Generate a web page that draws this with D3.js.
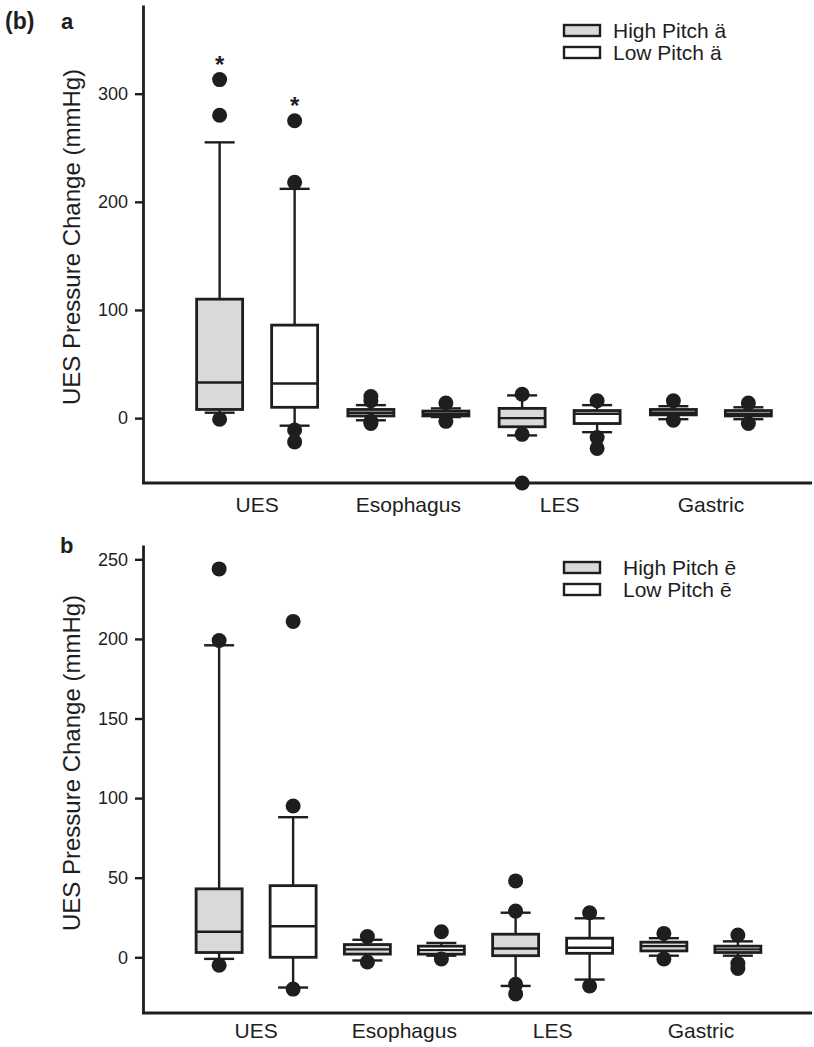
<!DOCTYPE html>
<html>
<head>
<meta charset="utf-8">
<script src="https://cdn.jsdelivr.net/npm/d3@7"></script>
<style>
  body { margin: 0; background: #fff; }
  svg { display: block; font-family: 'Liberation Sans', Arial, sans-serif; }
</style>
</head>
<body>
<svg></svg>
<script>
'use strict'

const categories = ['UES', 'Esophagus', 'LES', 'Gastric']

// [whiskerLow, q1, median, q3, whiskerHigh]
const aHigh = [[5, 8, 33, 110, 255], [-2, 2, 5, 8, 12], [-16, -8, 0, 9, 21], [-1, 3, 5, 8, 11]]
const aLow = [[-7, 10, 32, 86, 212], [1, 2, 4, 6.5, 9], [-13, -5, 4, 7, 12], [-1, 2, 4, 7, 10]]
const aHighOut = [[313, 280, -1], [20, 16, -3, -5], [22, -15, -60], [16, -2]]
const aLowOut = [[275, 218, -11, -22], [14, -3], [16, -18, -28], [14, -5]]
const aStars = [true, true]

const bHigh = [[-1, 3, 16, 43, 196], [-2, 2, 5, 8, 11], [-18, 1, 5.5, 14.5, 28], [1, 4, 7, 9.5, 12]]
const bLow = [[-19, 0, 19.5, 45, 88], [1, 2, 4.5, 7, 9], [-14, 2.5, 6, 12, 24.5], [1, 3, 5, 7, 10]]
const bHighOut = [[244, 199, -5], [13, -3], [48, 29, -17, -23], [15, -1]]
const bLowOut = [[211, 95, -20], [16, -1], [28, -18], [14, -4, -7]]

const yTicksA = [0, 100, 200, 300]
const yTicksB = [0, 50, 100, 150, 200, 250]

const ink = '#1e1e1e'
const grey = '#d9d9d9'

const svg = d3.select('svg').attr('width', 814).attr('height', 1047)

function panel(opt) {
  const g = svg.append('g')
  const y = d3.scaleLinear().domain(opt.yDomain).range([opt.bottom, opt.top])
  const x = d3.scaleBand().domain(categories).range(opt.xRange)
  const off = opt.offset
  const boxW = 46, capW = 30, r = 7.5

  // y axis
  const ya = g.append('g')
    .attr('transform', 'translate(143,0)')
    .call(d3.axisLeft(y).tickValues(opt.ticks).tickSize(8).tickSizeOuter(0).tickPadding(7))
  ya.select('.domain').attr('stroke', ink).attr('stroke-width', 2.8)
  ya.selectAll('.tick line').attr('stroke', ink).attr('stroke-width', 2.4)
  ya.selectAll('.tick text').attr('fill', ink).style('font-size', '18px')

  // x axis
  g.append('line')
    .attr('x1', 142).attr('x2', 812)
    .attr('y1', opt.bottom).attr('y2', opt.bottom)
    .attr('stroke', ink).attr('stroke-width', 2.8)
  const xa = g.append('g')
    .attr('transform', 'translate(0,' + opt.bottom + ')')
    .call(d3.axisBottom(x).tickSize(0).tickPadding(opt.labelPad))
  xa.select('.domain').remove()
  xa.selectAll('.tick text').attr('fill', ink).style('font-size', '21px')

  const series = [
    { stats: opt.high, outs: opt.highOut, fill: grey, dx: -off },
    { stats: opt.low, outs: opt.lowOut, fill: '#fff', dx: off }
  ]

  series.forEach(s => {
    categories.forEach((c, i) => {
      const cx = x(c) + x.bandwidth() / 2 + s.dx
      const [lo, q1, med, q3, hi] = s.stats[i]
      const bg = g.append('g')
      // whiskers
      bg.append('line').attr('x1', cx).attr('x2', cx).attr('y1', y(q3)).attr('y2', y(hi))
        .attr('stroke', ink).attr('stroke-width', 2.4)
      bg.append('line').attr('x1', cx).attr('x2', cx).attr('y1', y(q1)).attr('y2', y(lo))
        .attr('stroke', ink).attr('stroke-width', 2.4)
      bg.selectAll('.cap').data([lo, hi]).enter().append('line')
        .attr('x1', cx - capW / 2).attr('x2', cx + capW / 2)
        .attr('y1', d => y(d)).attr('y2', d => y(d))
        .attr('stroke', ink).attr('stroke-width', 2.4)
      // box
      bg.append('rect')
        .attr('x', cx - boxW / 2).attr('width', boxW)
        .attr('y', y(q3)).attr('height', Math.max(1, y(q1) - y(q3)))
        .attr('fill', s.fill).attr('stroke', ink).attr('stroke-width', 2.8)
      bg.append('line').attr('x1', cx - boxW / 2).attr('x2', cx + boxW / 2)
        .attr('y1', y(med)).attr('y2', y(med))
        .attr('stroke', ink).attr('stroke-width', 2.4)
      // outliers
      bg.selectAll('circle').data(s.outs[i]).enter().append('circle')
        .attr('cx', cx).attr('cy', d => y(d)).attr('r', r).attr('fill', ink)
    })
  })

  if (opt.stars) {
    series.forEach((s, k) => {
      if (!opt.stars[k]) return
      const cx = x(categories[0]) + x.bandwidth() / 2 + s.dx
      g.append('text')
        .attr('x', cx).attr('y', y(d3.max(s.outs[0])) - 7)
        .attr('text-anchor', 'middle')
        .attr('fill', ink)
        .style('font-size', '24px').style('font-weight', 'bold')
        .text('*')
    })
  }

  // legend
  const lg = g.append('g')
  opt.legend.forEach((t, k) => {
    lg.append('rect')
      .attr('x', 564).attr('y', opt.legendY + k * 22)
      .attr('width', 36).attr('height', 11)
      .attr('fill', k === 0 ? grey : '#fff')
      .attr('stroke', ink).attr('stroke-width', 2.4)
    lg.append('text')
      .attr('x', opt.legendX).attr('y', opt.legendY + k * 22 + 13)
      .attr('fill', ink)
      .style('font-size', '21px')
      .text(t)
  })

  // y label
  g.append('text')
    .attr('transform', 'translate(80,' + opt.labelMid + ') rotate(-90)')
    .attr('text-anchor', 'middle')
    .attr('fill', ink)
    .style('font-size', '24px')
    .text('UES Pressure Change (mmHg)')

  g.append('text')
    .attr('x', opt.tagX).attr('y', opt.tagY)
    .attr('fill', ink)
    .style('font-size', '22px').style('font-weight', 'bold')
    .text(opt.tag)
}

svg.append('text')
  .attr('x', 5).attr('y', 29)
  .attr('fill', ink)
  .style('font-size', '23px').style('font-weight', 'bold')
  .text('(b)')

panel({
  yDomain: [-60, 382], top: 5, bottom: 483, ticks: yTicksA,
  xRange: [181.5, 786.5], offset: 37.5, labelPad: 14,
  high: aHigh, low: aLow, highOut: aHighOut, lowOut: aLowOut, stars: aStars,
  legend: ['High Pitch ä', 'Low Pitch ä'], legendY: 25, legendX: 613,
  labelMid: 237, tag: 'a', tagX: 61, tagY: 29
})

panel({
  yDomain: [-35, 259], top: 545, bottom: 1013, ticks: yTicksB,
  xRange: [182, 775], offset: 37, labelPad: 10,
  high: bHigh, low: bLow, highOut: bHighOut, lowOut: bLowOut, stars: null,
  legend: ['High Pitch ē', 'Low Pitch ē'], legendY: 562, legendX: 623,
  labelMid: 763, tag: 'b', tagX: 60, tagY: 553
})
</script>
</body>
</html>
